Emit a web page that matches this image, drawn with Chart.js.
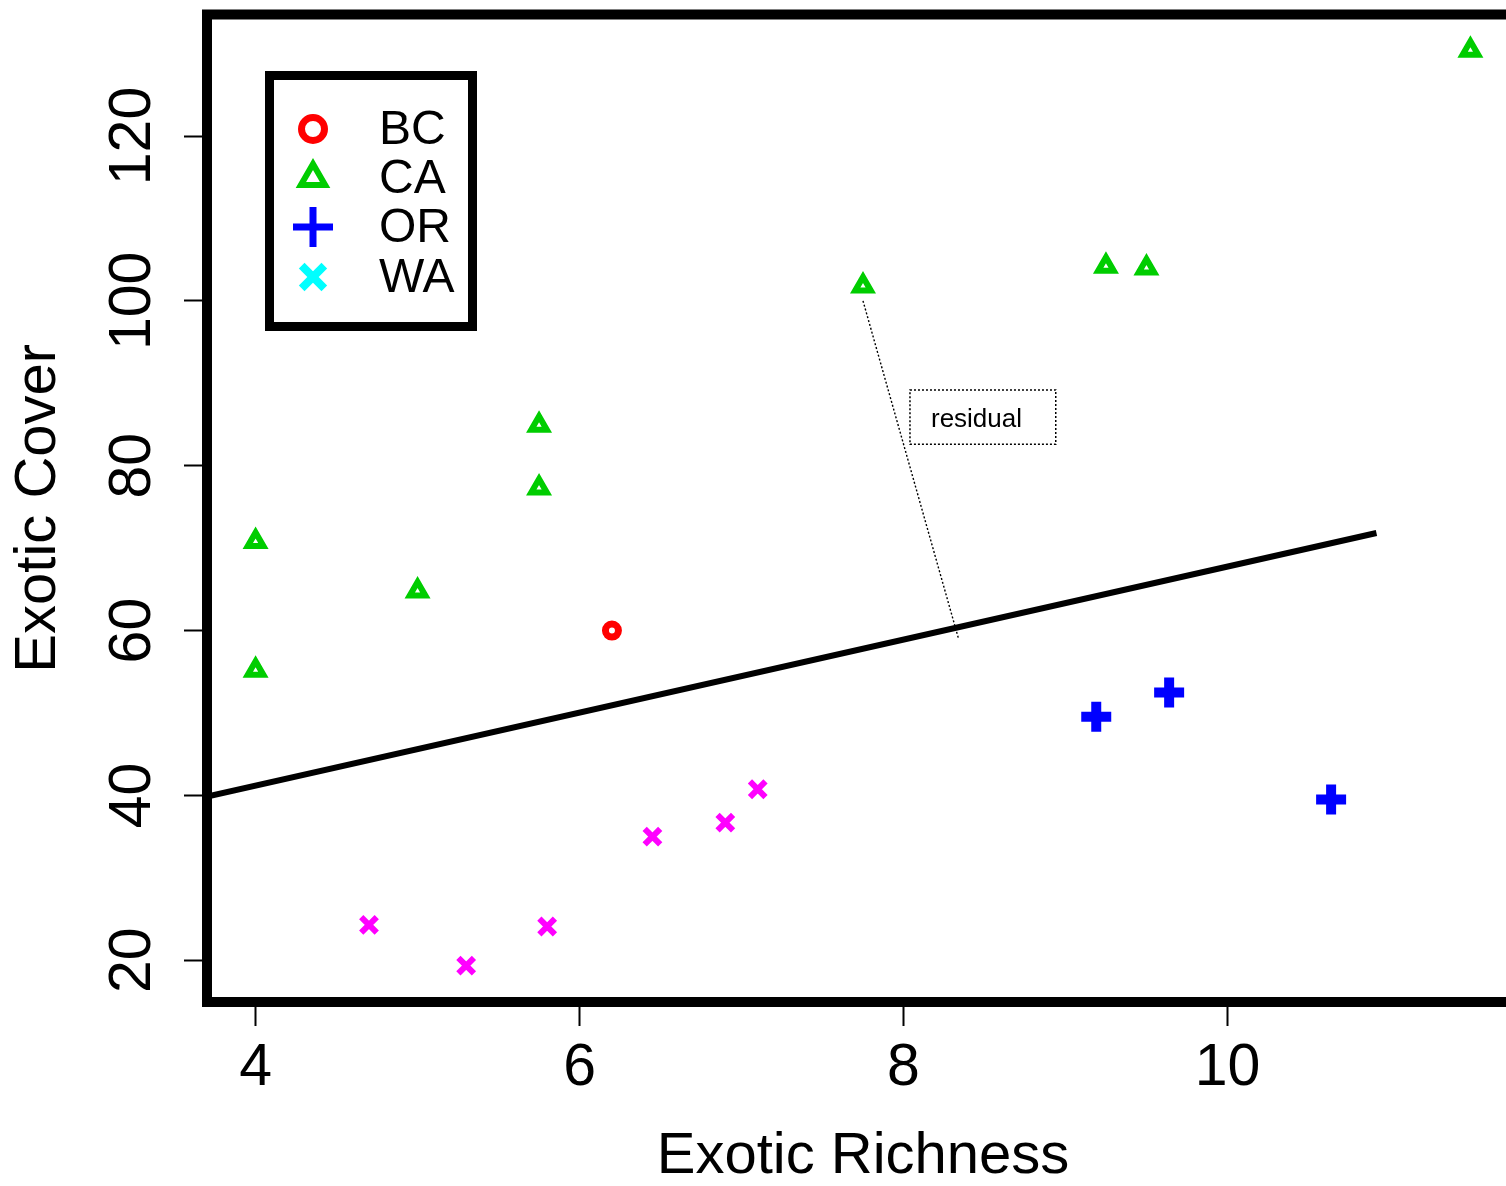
<!DOCTYPE html>
<html>
<head>
<meta charset="utf-8">
<script src="https://cdn.jsdelivr.net/npm/chart.js@4/dist/chart.umd.min.js"></script>
<style>
  html, body { margin: 0; padding: 0; background: #fff; overflow: hidden; }
  #wrap { width: 1530px; height: 1186px; }
</style>
</head>
<body>
<div id="wrap"><canvas id="chart" width="1530" height="1186"></canvas></div>
<script>
// --- data ---
const bcX = [6.2];
const bcY = [60.0];

const caX = [4.0, 4.0, 5.0, 5.75, 5.75, 7.75, 9.25, 9.5, 11.5];
const caY = [70.8, 55.2, 64.8, 84.9, 77.3, 101.8, 104.2, 104.0, 130.4];

const orX = [9.19, 9.64, 10.64];
const orY = [49.55, 52.5, 39.5];

const waX = [4.7, 5.3, 5.8, 6.45, 6.9, 7.1];
const waY = [24.3, 19.35, 24.1, 35.0, 36.7, 40.75];

// fitted line end points and the residual segment
const fitX = [3.7, 10.92];
const fitY = [39.87, 71.84];
const residX = [7.75, 8.34];
const residY = [100.0, 59.0];

const xTicks = [4, 6, 8, 10];
const yTicks = [20, 40, 60, 80, 100, 120];

const legendNames = ['BC', 'CA', 'OR', 'WA'];

const FONT = 'Liberation Sans, Arial, sans-serif';

function pts(xs, ys) {
    return xs.map((x, i) => ({ x: x, y: ys[i] }));
}

// legend symbols (WA shows cyan in the key, magenta in the plot)
const legendMarks = [
    { pointStyle: 'circle',   radius: 11.5, borderWidth: 7, color: '#FF0000' },
    { pointStyle: 'triangle', radius: 14,   borderWidth: 6, color: '#00CD00' },
    { pointStyle: 'cross',    radius: 20,   borderWidth: 7, color: '#0000FF' },
    { pointStyle: 'crossRot', radius: 16,   borderWidth: 8, color: '#00FFFF' }
];

const framePlugin = {
    id: 'frame',
    afterDatasetsDraw(chart) {
        const { ctx, chartArea: a } = chart;
        ctx.save();
        ctx.strokeStyle = '#000';
        ctx.lineWidth = 10;
        ctx.lineJoin = 'miter';
        ctx.strokeRect(a.left, a.top, a.right - a.left, a.bottom - a.top);
        ctx.restore();
    },
    afterDraw(chart) {
        const { ctx, scales } = chart;

        // legend box
        ctx.save();
        ctx.fillStyle = '#fff';
        ctx.fillRect(269.5, 75.5, 203, 251);
        ctx.strokeStyle = '#000';
        ctx.lineWidth = 9;
        ctx.strokeRect(269.5, 75.5, 203, 251);

        const rowsY = [129, 178, 227, 277];
        const textY = [144, 193, 242, 292];
        legendMarks.forEach((m, i) => {
            ctx.lineWidth = m.borderWidth;
            ctx.strokeStyle = m.color;
            ctx.fillStyle = '#fff';
            Chart.helpers.drawPoint(ctx, { pointStyle: m.pointStyle, radius: m.radius, borderWidth: m.borderWidth, rotation: 0 }, 313, rowsY[i]);
            ctx.fillStyle = '#000';
            ctx.font = '48px ' + FONT;
            ctx.textAlign = 'left';
            ctx.textBaseline = 'alphabetic';
            ctx.fillText(legendNames[i], 379, textY[i]);
        });

        // "residual" label with dotted box, placed in data units
        const bx1 = scales.x.getPixelForValue(8.04);
        const bx2 = scales.x.getPixelForValue(8.94);
        const by1 = scales.y.getPixelForValue(89.2);
        const by2 = scales.y.getPixelForValue(82.6);
        ctx.setLineDash([2, 2]);
        ctx.lineWidth = 1.5;
        ctx.strokeStyle = '#000';
        ctx.strokeRect(bx1, by1, bx2 - bx1, by2 - by1);
        ctx.setLineDash([]);
        ctx.fillStyle = '#000';
        ctx.font = '26px ' + FONT;
        ctx.textAlign = 'left';
        ctx.textBaseline = 'alphabetic';
        ctx.fillText('residual', bx1 + 21, by1 + 37);
        ctx.restore();
    }
};

new Chart(document.getElementById('chart'), {
    type: 'scatter',
    data: {
        datasets: [
            {
                label: 'fit',
                type: 'line',
                data: pts(fitX, fitY),
                borderColor: '#000',
                borderWidth: 6,
                pointRadius: 0,
                fill: false
            },
            {
                label: 'residual',
                type: 'line',
                data: pts(residX, residY),
                borderColor: '#000',
                borderWidth: 1.4,
                borderDash: [2, 2],
                pointRadius: 0,
                fill: false
            },
            {
                label: 'BC',
                data: pts(bcX, bcY),
                pointStyle: 'circle',
                pointRadius: 6.5,
                pointBorderWidth: 7,
                borderColor: '#FF0000',
                backgroundColor: '#fff'
            },
            {
                label: 'CA',
                data: pts(caX, caY),
                pointStyle: 'triangle',
                pointRadius: 9,
                pointBorderWidth: 6,
                borderColor: '#00CD00',
                backgroundColor: '#fff'
            },
            {
                label: 'OR',
                data: pts(orX, orY),
                pointStyle: 'cross',
                pointRadius: 15,
                pointBorderWidth: 10,
                borderColor: '#0000FF',
                backgroundColor: '#0000FF'
            },
            {
                label: 'WA',
                data: pts(waX, waY),
                pointStyle: 'crossRot',
                pointRadius: 11,
                pointBorderWidth: 6,
                borderColor: '#FF00FF',
                backgroundColor: '#FF00FF'
            }
        ]
    },
    options: {
        responsive: false,
        devicePixelRatio: 1,
        animation: false,
        events: [],
        layout: { autoPadding: false, padding: { top: 14.5, right: 11, bottom: 0, left: 0 } },
        plugins: {
            legend: { display: false },
            tooltip: { enabled: false }
        },
        scales: {
            x: {
                type: 'linear',
                min: 3.7,
                max: 11.8,
                afterBuildTicks: s => { s.ticks = xTicks.map(v => ({ value: v })); },
                afterFit: s => { s.height = 184; s.paddingLeft = 0; s.paddingRight = 0; },
                border: { display: false },
                grid: { drawOnChartArea: false, drawTicks: true, tickLength: 24, tickWidth: 2, tickColor: '#000' },
                ticks: { color: '#000', padding: 7, font: { family: FONT, size: 59 } },
                title: {
                    display: true,
                    text: 'Exotic Richness',
                    color: '#000',
                    font: { family: FONT, size: 58, lineHeight: 1 },
                    padding: { top: 0, bottom: 0 }
                }
            },
            y: {
                type: 'linear',
                min: 14.94,
                max: 134.74,
                afterBuildTicks: s => { s.ticks = yTicks.map(v => ({ value: v })); },
                afterFit: s => { s.width = 207; s.paddingTop = 0; s.paddingBottom = 0; },
                border: { display: false },
                grid: { drawOnChartArea: false, drawTicks: true, tickLength: 23, tickWidth: 2, tickColor: '#000' },
                ticks: {
                    color: '#000',
                    padding: 1,
                    minRotation: 90,
                    maxRotation: 90,
                    crossAlign: 'center',
                    font: { family: FONT, size: 59 }
                },
                title: {
                    display: true,
                    text: 'Exotic Cover',
                    color: '#000',
                    font: { family: FONT, size: 58, lineHeight: 1 },
                    padding: { top: 10, bottom: 0 }
                }
            }
        }
    },
    plugins: [framePlugin]
});
</script>
</body>
</html>
